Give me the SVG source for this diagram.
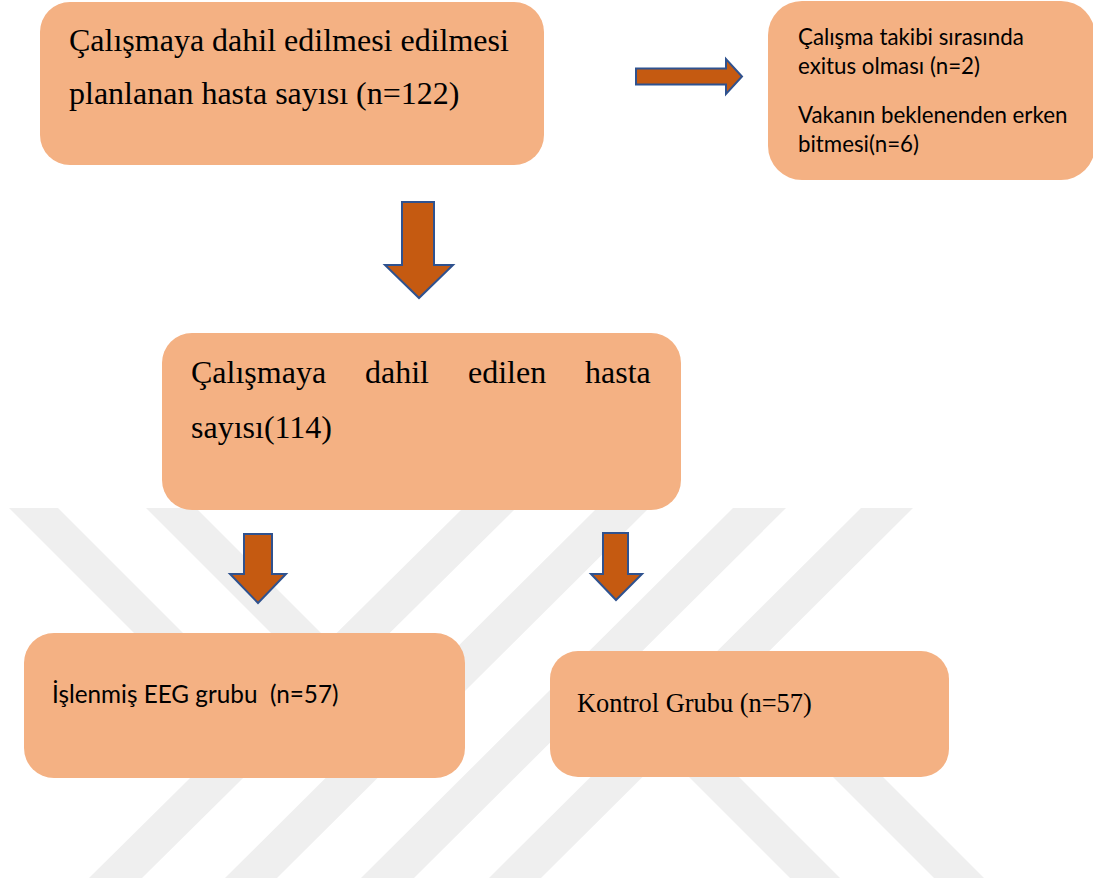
<svg xmlns="http://www.w3.org/2000/svg" width="1093" height="884" viewBox="0 0 1093 884">
  <style>
    .box { fill: #F4B183; }
    .arrow { fill: #C55A11; stroke: #2F528F; stroke-width: 2; stroke-linejoin: miter; }
    .wm { fill: #EFEFEF; }
    .serif { font-family: "Liberation Serif", "Times New Roman", serif; fill: #000; }
    .sans { font-family: Lato, "Carlito", "Liberation Sans", sans-serif; fill: #000; }
  </style>
  <rect x="0" y="0" width="1093" height="884" fill="#FFFFFF"/>
  <g id="watermark">
    <polygon class="wm" points="89,878 142,878 516,508 463,508"/>
    <polygon class="wm" points="225,878 277,878 649,508 597,508"/>
    <polygon class="wm" points="361,878 414,878 786,508 733,508"/>
    <polygon class="wm" points="489,878 541,878 913,508 861,508"/>
    <polygon class="wm" points="9,508 58,508 259.5,709.5 235,734"/>
    <polygon class="wm" points="146,508 196,508 396.5,708.5 371.5,733.5"/>
    <polygon class="wm" points="628,666 603,691 790,878 840,878"/>
    <polygon class="wm" points="763.5,657.5 738.5,682.5 934,878 984,878"/>
  </g>
  <g id="connectors">
    <polygon class="arrow" points="636,68.5 726,68.5 726,59 742,76.5 726,94 726,84.5 636,84.5"/>
    <polygon class="arrow" points="402,202 434,202 434,265 453,265 419,298 385,265 402,265"/>
    <polygon class="arrow" points="244,534 272,534 272,574 286,574 258,603 230,574 244,574"/>
    <polygon class="arrow" points="603,533 628,533 628,574 642,574 616,600 591,574 603,574"/>
  </g>
  <g id="node-planned">
    <rect class="box" x="40" y="2" width="504" height="163" rx="30" ry="30"/>
    <text class="serif" font-size="32" x="69" y="51">Çalışmaya dahil edilmesi edilmesi</text>
    <text class="serif" font-size="32" x="69" y="104">planlanan hasta sayısı (n=122)</text>
  </g>
  <g id="node-excluded">
    <rect class="box" x="768" y="1" width="327" height="179" rx="34" ry="34"/>
    <text class="sans" font-size="22.3" x="798" y="45">Çalışma takibi sırasında</text>
    <text class="sans" font-size="22.3" x="798" y="74">exitus olması (n=2)</text>
    <text class="sans" font-size="22.3" x="798" y="123">Vakanın beklenenden erken</text>
    <text class="sans" font-size="22.3" x="798" y="152">bitmesi(n=6)</text>
  </g>
  <g id="node-included">
    <rect class="box" x="162" y="333" width="519" height="177" rx="30" ry="30"/>
    <text class="serif" font-size="32" y="383"><tspan x="191">Çalışmaya</tspan><tspan x="365">dahil</tspan><tspan x="468">edilen</tspan><tspan x="585">hasta</tspan></text>
    <text class="serif" font-size="32" x="191" y="438">sayısı(114)</text>
  </g>
  <g id="node-eeg">
    <rect class="box" x="24" y="633" width="441" height="145" rx="30" ry="30"/>
    <text class="sans" font-size="24.3" x="52" y="703" xml:space="preserve">İşlenmiş EEG grubu  (n=57)</text>
  </g>
  <g id="node-control">
    <rect class="box" x="550" y="651" width="399" height="126" rx="28" ry="28"/>
    <text class="serif" font-size="26.4" x="577" y="712">Kontrol Grubu (n=57)</text>
  </g>
</svg>
